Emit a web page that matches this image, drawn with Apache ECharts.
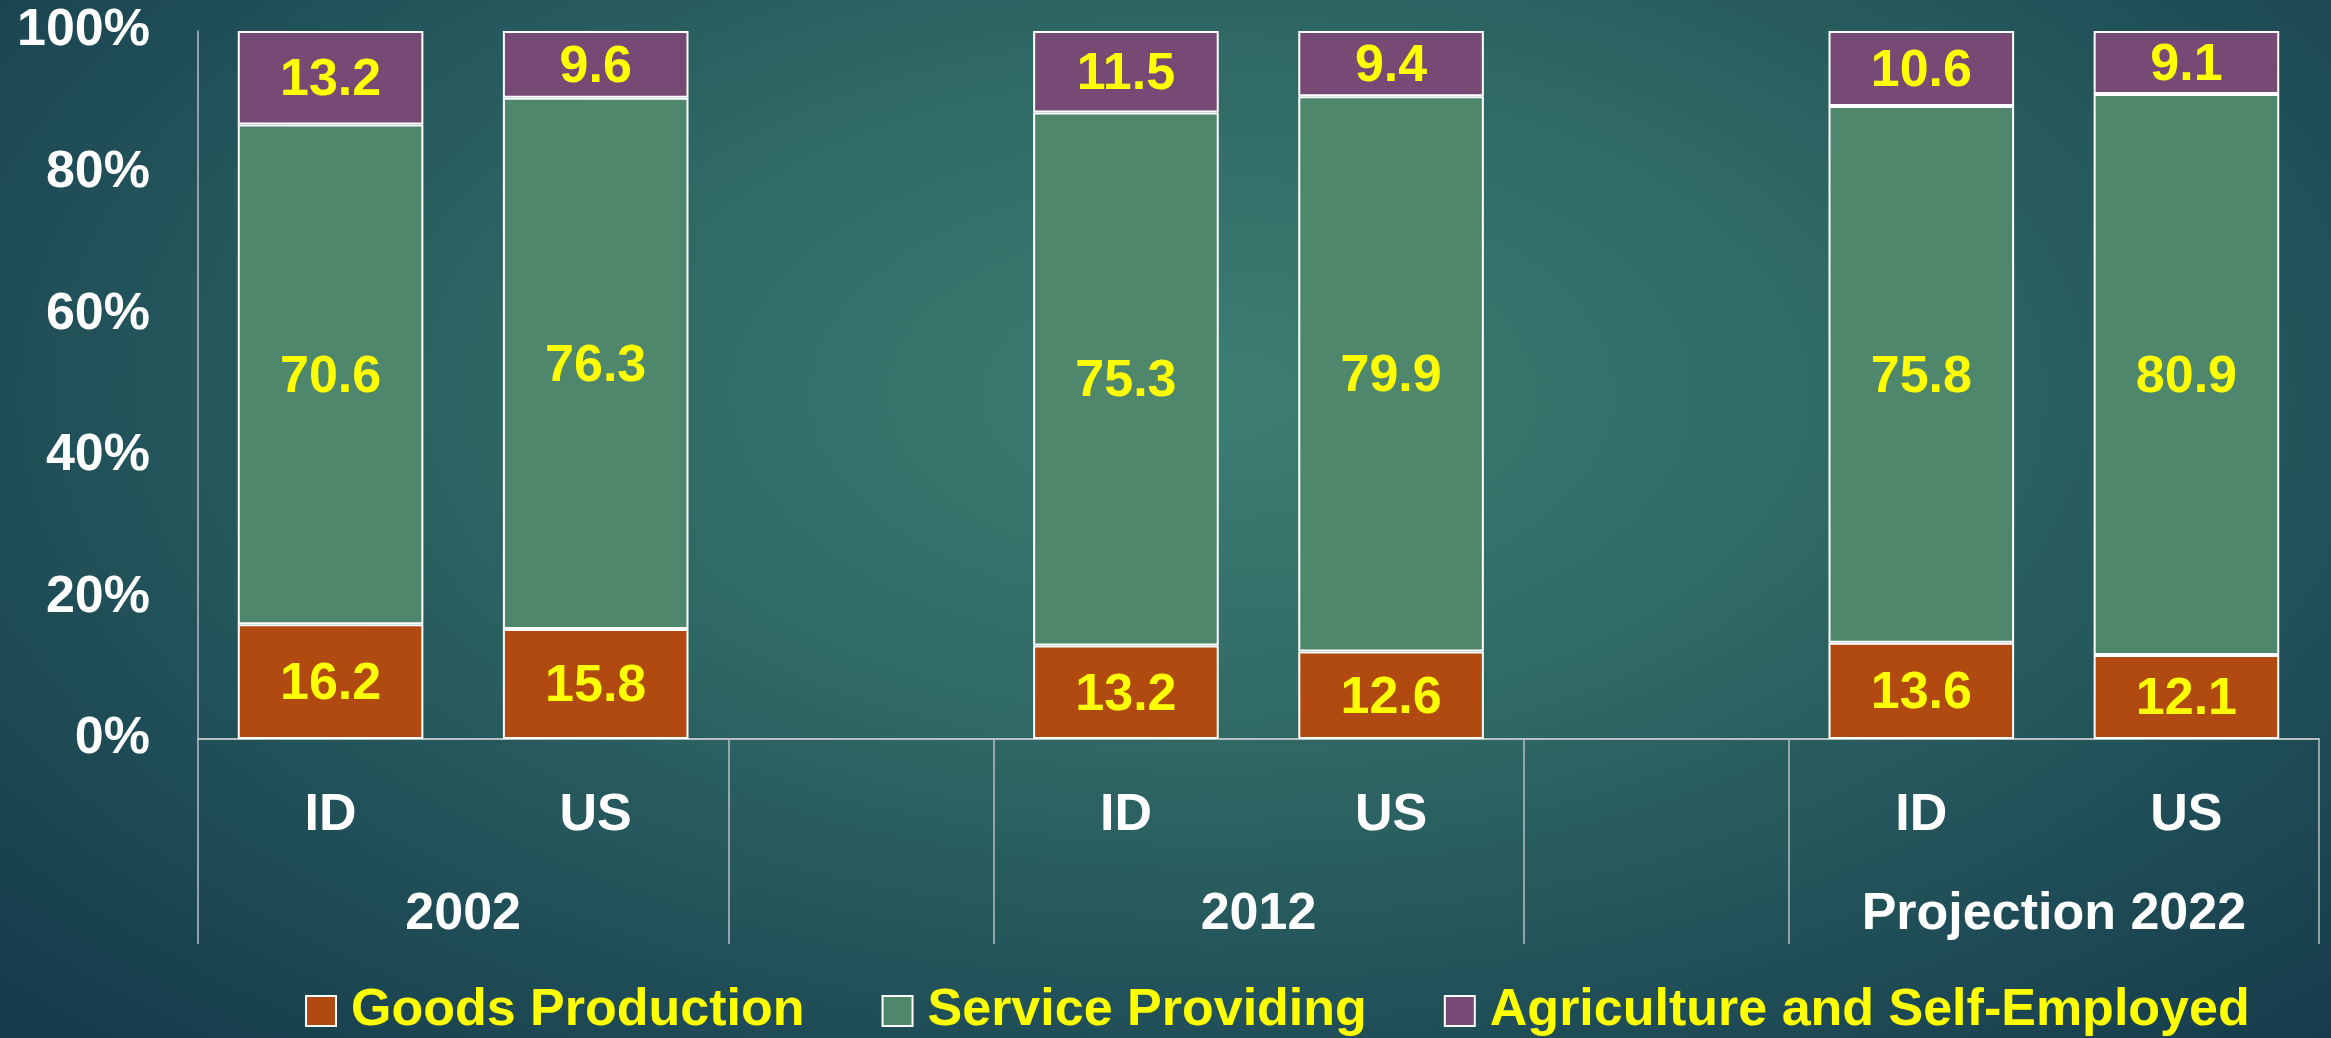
<!DOCTYPE html>
<html>
<head>
<meta charset="utf-8">
<script src="https://cdn.jsdelivr.net/npm/echarts@6/dist/echarts.min.js"></script>
<style>
  html, body { margin: 0; padding: 0; }
  #main {
    width: 2331px; height: 1038px;
    background: radial-gradient(ellipse 70% 85% at 52% 38%, #3d7e73 0%, #2f6864 40%, #1f4d57 75%, #163c4b 100%);
  }
</style>
</head>
<body>
<div id="main"></div>
<script>
// categories: 8 slots, empty slots make the gaps between years
var categories = ['ID', 'US', '', 'ID', 'US', '', 'ID', 'US'];
var groupLabels = ['', '2002', '', '', '2012', '', '', 'Projection 2022', ''];
var groupTicks = [0, 2, 3, 5, 6, 8];
var yTicks = [0, 20, 40, 60, 80, 100];

var goods = [16.2, 15.8, null, 13.2, 12.6, null, 13.6, 12.1];
var service = [70.6, 76.3, null, 75.3, 79.9, null, 75.8, 80.9];
var agri = [13.2, 9.6, null, 11.5, 9.4, null, 10.6, 9.1];

var seriesNames = ['Goods Production', 'Service Providing', 'Agriculture and Self-Employed'];
var seriesColors = ['#b14a10', '#4e876c', '#774a75'];
var raw = [goods, service, agri];

setTimeout(() => {
  drawChart()
}, 50)

function drawChart () {
  var myChart = echarts.init(document.getElementById('main'));

  // 100% stacked, like the excel chart: share of each column's total
  var totals = categories.map((c, i) => {
    if (goods[i] == null) return null;
    return goods[i] + service[i] + agri[i];
  });

  var series = raw.map((arr, k) => {
    return {
      name: seriesNames[k],
      type: 'bar',
      stack: 'total',
      barWidth: '70%',
      data: arr.map((v, i) => v == null ? '-' : v / totals[i] * 100),
      itemStyle: {
        color: seriesColors[k],
        borderColor: '#ffffff',
        borderWidth: 2
      },
      label: {
        show: true,
        position: 'inside',
        offset: [0, 3],
        color: '#ffff00',
        fontSize: 52,
        fontWeight: 'bold',
        fontFamily: 'Liberation Sans',
        formatter: (p) => raw[k][p.dataIndex].toFixed(1)
      }
    };
  });

  var option = {
    animation: false,
    grid: {
      left: 198,
      right: 12,
      top: 31,
      bottom: 299
    },
    legend: {
      left: 300,
      top: 980,
      itemWidth: 30,
      itemHeight: 30,
      itemGap: 77,
      icon: 'rect',
      textStyle: {
        color: '#ffff00',
        fontSize: 52,
        fontWeight: 'bold',
        fontFamily: 'Liberation Sans',
        padding: [0, 0, 0, 10]
      },
      data: seriesNames
    },
    xAxis: [
      {
        type: 'category',
        position: 'bottom',
        data: categories,
        axisLine: { show: false },
        axisTick: { show: false },
        axisLabel: {
          interval: 0,
          margin: 51,
          color: '#ffffff',
          fontSize: 52,
          lineHeight: 52,
          fontWeight: 'bold',
          fontFamily: 'Liberation Sans'
        }
      },
      {
        type: 'category',
        position: 'bottom',
        offset: 0,
        boundaryGap: false,
        data: groupLabels,
        axisLine: {
          show: true,
          lineStyle: { color: '#b8bfc0', width: 2 }
        },
        axisTick: {
          show: true,
          length: 205,
          interval: (index) => groupTicks.indexOf(index) >= 0,
          lineStyle: { color: '#b8bfc0', width: 1.5 }
        },
        axisLabel: {
          interval: 0,
          margin: 150,
          color: '#ffffff',
          fontSize: 52,
          lineHeight: 52,
          fontWeight: 'bold',
          fontFamily: 'Liberation Sans'
        }
      }
    ],
    yAxis: {
      type: 'value',
      min: yTicks[0],
      max: yTicks[yTicks.length - 1],
      interval: 20,
      splitLine: { show: false },
      axisLine: {
        show: true,
        lineStyle: { color: '#b8bfc0', width: 1.5 }
      },
      axisTick: { show: false },
      axisLabel: {
        margin: 48,
        color: '#ffffff',
        fontSize: 52,
        fontWeight: 'bold',
        fontFamily: 'Liberation Sans',
        formatter: '{value}%'
      }
    },
    series: series
  };

  myChart.setOption(option);
}
</script>
</body>
</html>
